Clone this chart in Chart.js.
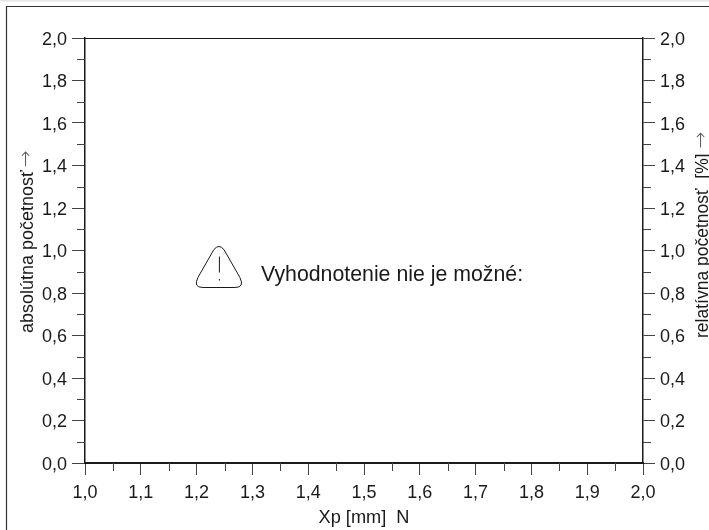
<!DOCTYPE html>
<html><head><meta charset="utf-8">
<style>html,body{margin:0;padding:0;background:#fff}canvas{display:block}</style>
<script src="https://cdn.jsdelivr.net/npm/chart.js@4"></script>
</head><body>
<div style="width:709px;height:530px;position:relative"><canvas id="c" width="709" height="530"></canvas></div>
<script>
const xRange = [1.0, 2.0];
const yRange = [0.0, 2.0];
const seriesValues = [];
const xTitle = "Xp [mm]  N";
const yTitle = "absolútna početnosť";
const y2Title = "relatívna početnosť  [%]";
const arrowGlyph = "→";
const noticeText = "Vyhodnotenie nie je možné:";
const FONT = '"Liberation Sans", Arial, sans-serif';
const INK = '#1a1a1a';

const fmt = v => v.toFixed(1).replace('.', ',');
const isMajor = v => Math.abs(v * 10 - Math.round(v * 10)) < 1e-6;
const isMajorY = v => Math.abs(v * 5 - Math.round(v * 5)) < 1e-6;

function sideTitle(c, text, x, yBottom, size, gap) {
  c.save();
  c.translate(x, yBottom); c.rotate(-Math.PI / 2);
  c.fillStyle = INK; c.textAlign = 'left'; c.textBaseline = 'middle';
  c.font = size + 'px ' + FONT;
  c.fillText(text, 0, 0);
  const w = c.measureText(text).width;
  c.font = '200 20px "DejaVu Sans Light", "DejaVu Sans"';
  c.fillStyle = '#555';
  c.fillText(arrowGlyph, w + gap, -1);
  c.restore();
}

const minorTicks = {
  id: 'minorTicks',
  afterDraw(ch) {
    const c = ch.ctx, a = ch.chartArea, sx = ch.scales.x, sy = ch.scales.y;
    c.save();
    c.fillStyle = '#e6e6e6'; c.fillRect(0, 0, 709, 1.5);
    c.strokeStyle = '#333'; c.lineWidth = 1.2;
    c.beginPath(); c.moveTo(6.5, 530); c.lineTo(6.5, 6.5); c.lineTo(709, 6.5); c.stroke();
    c.strokeStyle = INK; c.lineWidth = 1;
    c.beginPath(); c.moveTo(a.left, a.top + .5); c.lineTo(a.right, a.top + .5); c.stroke();
    c.strokeStyle = '#444'; c.lineWidth = 1;
    c.beginPath();
    sx.ticks.forEach(t => { if (!isMajor(t.value)) { const p = Math.round(sx.getPixelForValue(t.value)) + .5; c.moveTo(p, a.bottom); c.lineTo(p, a.bottom + 8); } });
    sy.ticks.forEach(t => { if (!isMajorY(t.value)) { const p = Math.round(sy.getPixelForValue(t.value)) + .5;
      c.moveTo(a.left - 8, p); c.lineTo(a.left, p); c.moveTo(a.right, p); c.lineTo(a.right + 8, p); } });
    c.stroke();
    sideTitle(c, yTitle, 28, 333, 18, 3);
    sideTitle(c, y2Title, 703, 338, 17.5, 5);
    const nx = sx.getPixelForValue(1.24), ny = sy.getPixelForValue(1.0);
    c.strokeStyle = INK; c.lineWidth = 1;
    c.beginPath();
    c.moveTo(nx - 5, ny - 1);
    c.lineTo(nx - 21, ny + 27);
    c.quadraticCurveTo(nx - 26, ny + 37, nx - 16, ny + 37);
    c.lineTo(nx + 16, ny + 37);
    c.quadraticCurveTo(nx + 26, ny + 37, nx + 21, ny + 27);
    c.lineTo(nx + 5, ny - 1);
    c.quadraticCurveTo(nx, ny - 7, nx - 5, ny - 1);
    c.closePath(); c.stroke();
    c.beginPath(); c.moveTo(nx + .5, ny + 6); c.lineTo(nx + .5, ny + 22); c.moveTo(nx + .5, ny + 28.5); c.lineTo(nx + .5, ny + 30); c.stroke();
    c.font = '21.3px ' + FONT; c.textAlign = 'left'; c.textBaseline = 'middle'; c.fillStyle = INK;
    c.fillText(noticeText, 261, ny + 25);
    c.restore();
  }
};

new Chart(document.getElementById('c'), {
  type: 'scatter',
  data: { datasets: [{ data: seriesValues, yAxisID: 'y' }] },
  options: {
    responsive: false, animation: false,
    layout: { padding: { top: 38, left: 0, right: 0, bottom: 0 } },
    plugins: { legend: { display: false }, tooltip: { enabled: false } },
    scales: {
      x: {
        type: 'linear', min: xRange[0], max: xRange[1],
        afterFit: s => { s.height = 67; },
        ticks: { stepSize: 0.05, autoSkip: false, maxRotation: 0, padding: 7, color: INK,
          font: { family: FONT, size: 18 }, callback: v => isMajor(v) ? fmt(v) : '' },
        grid: { drawOnChartArea: false, tickLength: 12, tickWidth: 1,
          tickColor: c => isMajor(c.tick.value) ? '#444' : 'transparent' },
        border: { color: INK, width: 2 },
        title: { display: true, text: xTitle, color: INK, font: { family: FONT, size: 18.2 }, padding: { top: 0, bottom: 1 } }
      },
      y: {
        type: 'linear', position: 'left', min: yRange[0], max: yRange[1],
        afterFit: s => { s.width = 85; },
        ticks: { stepSize: 0.1, autoSkip: false, padding: 5, labelOffset: 2, color: INK,
          font: { family: FONT, size: 18 }, callback: v => isMajorY(v) ? fmt(v) : '' },
        grid: { drawOnChartArea: false, tickLength: 13, tickWidth: 1,
          tickColor: c => isMajorY(c.tick.value) ? '#444' : 'transparent' },
        border: { color: INK, width: 1.5 }
      },
      y2: {
        type: 'linear', position: 'right', min: yRange[0], max: yRange[1],
        afterFit: s => { s.width = 66; },
        ticks: { stepSize: 0.1, autoSkip: false, padding: 5, labelOffset: 2, color: INK,
          font: { family: FONT, size: 18 }, callback: v => isMajorY(v) ? fmt(v) : '' },
        grid: { drawOnChartArea: false, tickLength: 12, tickWidth: 1,
          tickColor: c => isMajorY(c.tick.value) ? '#444' : 'transparent' },
        border: { color: INK, width: 1.5 }
      }
    }
  },
  plugins: [minorTicks]
});
</script>
</body></html>
